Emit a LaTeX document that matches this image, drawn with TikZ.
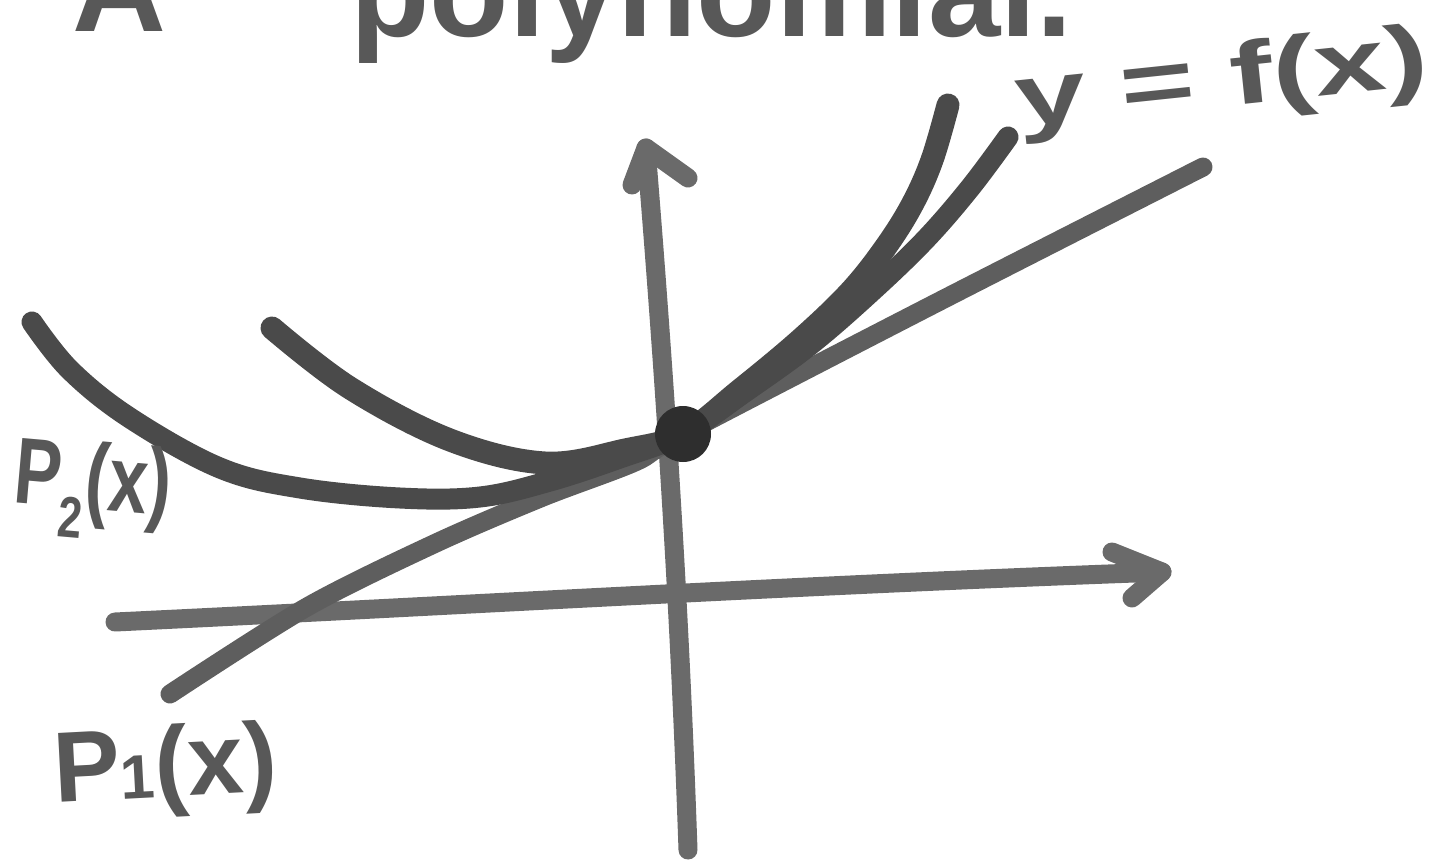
\documentclass[tikz,border=0pt]{standalone}
\usepackage{fontspec}
\setmainfont{Liberation Sans}
\begin{document}
\begin{tikzpicture}[x=1pt,y=-1pt,
  axis/.style={draw=axisgray,line width=19pt,line cap=round,line join=round},
  curve/.style={draw=curvegray,line width=23pt,line cap=round,line join=round},
  hand/.style={text=textgray,inner sep=0pt,font=\bfseries}]
\definecolor{axisgray}{HTML}{6A6A6A}
\definecolor{curvegray}{HTML}{4A4A4A}
\definecolor{linegray}{HTML}{5E5E5E}
\definecolor{textgray}{HTML}{585858}
\definecolor{dotgray}{HTML}{2E2E2E}
\useasboundingbox (0,0) rectangle (1437,859);
\begin{scope}
\clip (0,0) rectangle (1437,859);
% title, cut off at the top
\node[hand,anchor=base west,font=\bfseries\fontsize{130}{130}\selectfont] (tA) at (72,32) {A};
\node[hand,anchor=base west,font=\bfseries\fontsize{130}{130}\selectfont] (tpoly) at (350,37) {polynomial.};
% axes
\coordinate (ybot) at (688,850);
\coordinate (ytop) at (646,148);
\draw[axis] (ybot) .. controls (678,560) and (660,320) .. (ytop);
\coordinate (ywl) at (632,185);
\coordinate (ywr) at (688,178);
\draw[axis] (ywl) -- (ytop) -- (ywr);
\coordinate (xleft) at (115,622);
\coordinate (xright) at (1162,572);
\draw[axis] (xleft) .. controls (450,606) and (800,585) .. (xright);
\coordinate (xwu) at (1112,552);
\coordinate (xwd) at (1132,598);
\draw[axis] (xwu) -- (xright) -- (xwd);
% point of tangency
\coordinate (tp) at (683,434);
% tangent line P1
\coordinate (p1a) at (170,694);
\coordinate (p1b) at (1203,167);
\draw[axis,draw=linegray] plot[smooth,tension=0.5] coordinates{(p1a) (307,607) (436,543) (543,497) (635,462) (tp) (940,301) (p1b)};
% P2 (flatter parabola)
\draw[curve,line width=21pt] plot[smooth,tension=0.6] coordinates{(32,322) (70,370) (130,418) (220,468) (300,488) (400,498) (480,497) (550,481) (620,458) (tp) (745,392) (810,345) (870,293) (925,240) (970,188) (1008,137)};
% f(x)
\draw[curve] plot[smooth,tension=0.6] coordinates{(272,328) (350,388) (450,440) (545,463) (625,450) (tp) (740,390) (800,340) (850,292) (885,248) (912,205) (932,160) (948,105)};
% dot
\fill[dotgray] (tp) circle (28pt);
% labels
\node[hand,anchor=base west,rotate=6,font=\bfseries\fontsize{88}{88}\selectfont] (lf) at (1018,128) {\scalebox{1.45}[1]{y = f(x)}};
\node[hand,anchor=base west,rotate=-5,font=\bfseries\fontsize{94}{94}\selectfont] (lp2) at (12,502) {\scalebox{0.75}[1]{P\raisebox{-0.32em}{\fontsize{58}{58}\selectfont 2}(x)}};
\node[hand,anchor=base west,rotate=3,font=\bfseries\fontsize{100}{100}\selectfont] (lp1) at (55,803) {P{\fontsize{62}{62}\selectfont 1}(x)};
\end{scope}
\end{tikzpicture}
\end{document}
